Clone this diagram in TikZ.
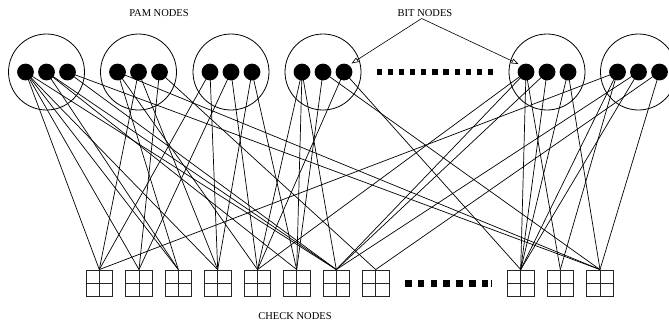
\documentclass[tikz,border=0pt]{standalone}
\usepackage{fontspec}
\setmainfont{Liberation Serif}
\usetikzlibrary{arrows.meta,backgrounds}
\tikzset{
  bitdot/.style={circle,fill=black,inner sep=0pt,minimum size=16.8pt},
  pamcirc/.style={circle,draw=black,line width=0.8pt,inner sep=0pt,minimum size=76pt},
  chk/.style={rectangle,draw=black!85,line width=0.8pt,inner sep=0pt,minimum size=26.7pt,
    path picture={\draw[black!85,line width=0.8pt] (path picture bounding box.north) -- (path picture bounding box.south)
      (path picture bounding box.west) -- (path picture bounding box.east);}},
  edge/.style={line width=0.7pt},
  lbl/.style={font=\fontsize{10.5}{12}\selectfont,inner sep=0pt},
  dsq/.style={fill=black,inner sep=0pt,minimum size=#1},
  pointer/.style={line width=0.6pt,-{Triangle[open,length=7pt,width=5pt]}}
}
\begin{document}
\begin{tikzpicture}[x=1pt,y=-1pt]
\useasboundingbox (0,0) rectangle (669,322);
% PAM circles
\foreach \i/\cx in {1/46.5,2/138.5,3/231,4/323,5/547,6/638.5}{
  \node[pamcirc] (p\i) at (\cx,72) {};
}
% bit dots
\foreach \i/\cx in {1/46.5,2/138.5,3/231,4/323,5/547,6/638.5}{
  \node[bitdot] (d\i a) at (\cx-21,72) {};
  \node[bitdot] (d\i b) at (\cx,72) {};
  \node[bitdot] (d\i c) at (\cx+21,72) {};
}
% check nodes
\foreach \i/\cx in {1/99.3,2/139,3/178.3,4/217.7,5/257.5,6/296.7,7/336.3,8/375.7,9/520.7,10/560.3,11/600}{
  \node[chk] (c\i) at (\cx,283.3) {};
}
% dots rows
\foreach \k in {0,...,10}{
  \node[dsq=5.2pt] (tq\k) at (379.3+11.13*\k,72) {};
}
\foreach \k in {0,...,6}{
  \node[dsq=6.5pt] (bq\k) at (408.3+12.8*\k,283.5) {};
}
\node[fill=black,inner sep=0pt,minimum width=1pt,minimum height=6.5pt] (bqend) at (491.7,283.5) {};
% labels
\node[lbl] (pam) at (159,13.5) {PAM NODES};
\node[lbl] (bit) at (425,13.5) {BIT NODES};
\node[lbl] (chn) at (295,316) {CHECK NODES};
\coordinate (bitsrc) at (421.7,18.5);
\draw[pointer] (bitsrc) -- (351.5,63.5);
\draw[pointer] (bitsrc) -- (518.5,64);
% edges
\begin{scope}[on background layer]
\foreach \d/\c in {
  1a/1,1a/2,1a/3,1a/4,1a/7,
  1b/3,1b/6,1b/7,
  1c/7,1c/11,
  2a/3,2a/5,2a/11,
  2b/1,2b/4,
  2c/2,2c/8,
  3a/1,3a/4,
  3b/2,3b/5,
  3c/4,3c/6,
  4a/5,4a/6,4a/7,
  4b/6,4b/11,
  4c/5,4c/9,
  5a/5,5a/7,5a/9,5a/10,
  5b/7,5b/9,
  5c/9,5c/11,
  6a/1,6a/9,6a/10,
  6b/7,6b/9,
  6c/8,6c/11}{
  \draw[edge] (d\d.center) -- (c\c.north);
}
\end{scope}
\end{tikzpicture}
\end{document}
